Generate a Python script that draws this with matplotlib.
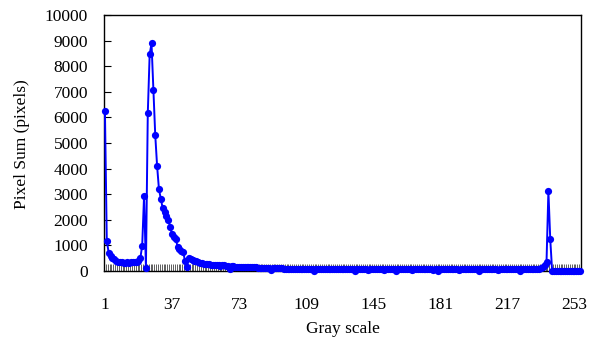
import matplotlib
matplotlib.use("Agg")
import matplotlib.pyplot as plt
from matplotlib.ticker import FixedLocator

# Gray levels 1..256
gray = list(range(1, 257))

pixel_sum = [
    # 1-20
    6250, 1180, 720, 600, 520, 450, 400, 370, 350, 340, 330, 330, 340, 330, 340, 350, 340, 360, 400, 500,
    # 21-45
    990, 2930, 130, 6160, 8460, 8890, 7070, 5310, 4100, 3190, 2810, 2450, 2290, 2150, 1990, 1730, 1430,
    1310, 1250, 950, 850, 790, 730, 400, 170,
    # 46-70
    500, 480, 440, 400, 380, 350, 330, 310, 290, 280, 270, 260, 250, 240, 230, 220, 215, 210, 220, 230,
    210, 190, 60, 190, 180,
    # 71-90
    175, 170, 170, 165, 160, 160, 155, 150, 150, 145, 140, 140, 135, 130, 130, 125, 120, 120, 115, 30,
    # 91-112
    110, 110, 105, 105, 100, 100, 95, 95, 90, 90, 90, 85, 85, 85, 80, 80, 80, 80, 75, 75, 75, 75,
    # 113
    10,
    # 114-134
    75, 75, 70, 70, 70, 70, 70, 70, 70, 65, 65, 65, 65, 65, 65, 65, 65, 60, 60, 60, 60,
    # 135
    10,
    # 136-156
    60, 60, 65, 60, 60, 60, 55, 60, 60, 60, 65, 60, 60, 60, 60, 55, 60, 60, 60, 60, 60,
    # 157
    10,
    # 158-179
    60, 60, 60, 65, 60, 60, 60, 60, 55, 60, 60, 60, 60, 65, 60, 60, 60, 60, 60, 55, 60, 60,
    # 180
    10,
    # 181-201
    60, 60, 60, 60, 65, 60, 60, 60, 60, 60, 55, 60, 60, 60, 60, 60, 65, 60, 60, 60, 60,
    # 202
    10,
    # 203-223
    60, 60, 60, 60, 60, 65, 60, 60, 60, 55, 60, 60, 60, 60, 60, 60, 65, 60, 60, 60, 60,
    # 224
    10,
    # 225-240
    60, 60, 60, 65, 65, 70, 70, 75, 80, 90, 110, 140, 220, 365, 3125, 1240,
    # 241-256
    10, 5, 5, 5, 5, 5, 5, 5, 5, 5, 5, 5, 5, 5, 5, 5,
]
assert len(pixel_sum) == len(gray)

x_tick_labels = [1, 37, 73, 109, 145, 181, 217, 253]
y_ticks = [0, 1000, 2000, 3000, 4000, 5000, 6000, 7000, 8000, 9000, 10000]

plt.rcParams['font.family'] = ['Liberation Serif', 'DejaVu Serif']
FS = 12.5

fig = plt.figure(figsize=(5.99, 3.43), dpi=100)
ax = fig.add_axes([104 / 599, 72 / 343, 477 / 599, 256 / 343])
ax.set_axisbelow(True)

ax.plot(gray, pixel_sum, color='#0000FF', linewidth=1.4, marker='o',
        markersize=5.2, markeredgewidth=0, zorder=3, clip_on=False)

ax.set_xlim(0.5, 256.5)
ax.set_ylim(0, 10000)

ax.set_xticks(x_tick_labels)
ax.set_xticklabels([str(v) for v in x_tick_labels], fontsize=FS)
ax.xaxis.set_minor_locator(FixedLocator([k + 0.5 for k in range(0, 257)]))
ax.tick_params(axis='x', which='major', length=0, pad=18.5)
ax.tick_params(axis='x', which='minor', direction='in', length=5, width=0.55, color='#333333')

ax.set_yticks(y_ticks)
ax.set_yticklabels([str(v) for v in y_ticks], fontsize=FS)
ax.tick_params(axis='y', which='major', direction='in', length=5, width=0.8, pad=11.5)

for s in ax.spines.values():
    s.set_color('black')
    s.set_linewidth(1.0)

ax.set_xlabel('Gray scale', fontsize=FS)
ax.xaxis.label.set_va('center')
ax.xaxis.set_label_coords((343 - 104) / 477, (271 - 329) / 256)

ax.set_ylabel('Pixel Sum (pixels)', fontsize=FS)
ax.yaxis.label.set_va('center')
ax.yaxis.set_label_coords((22 - 104) / 477, (271 - 144) / 256)

fig.savefig('out.png', dpi=100)
